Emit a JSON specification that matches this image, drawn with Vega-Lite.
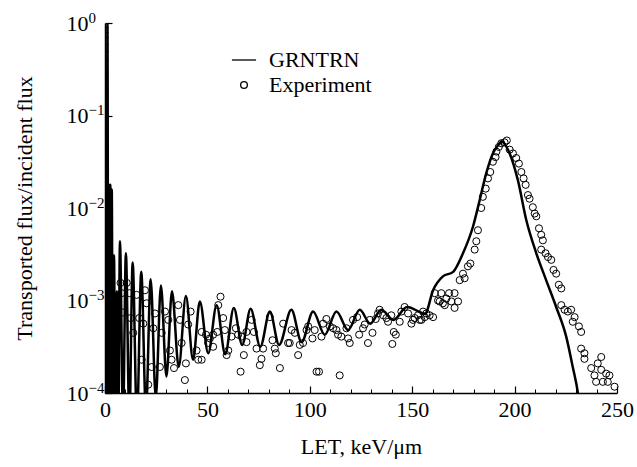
{
  "$schema": "https://vega.github.io/schema/vega-lite/v6.json",
  "width": 512,
  "height": 370,
  "autosize": "none",
  "padding": {"left": 105, "top": 23, "right": 20, "bottom": 74},
  "background": "white",
  "config": {
    "view": {"stroke": null},
    "font": "Liberation Serif",
    "axis": {"grid": false, "domainColor": "black", "tickColor": "black", "labelColor": "black", "titleColor": "black", "labelFont": "Liberation Serif", "titleFont": "Liberation Serif", "labelFontWeight": "normal", "titleFontWeight": "normal"}
  },
  "data": {"values": [
      {"s": "GRNTRN", "x": 0, "y": 0.00005}, {"s": "GRNTRN", "x": 0.8, "y": 0.00005}, {"s": "GRNTRN", "x": 1.2, "y": 1.0}, {"s": "GRNTRN", "x": 1.6, "y": 0.00005},
      {"s": "GRNTRN", "x": 1.9, "y": 0.0178}, {"s": "GRNTRN", "x": 2.25, "y": 0.00005}, {"s": "GRNTRN", "x": 2.6, "y": 0.0178}, {"s": "GRNTRN", "x": 2.95, "y": 0.00005},
      {"s": "GRNTRN", "x": 3.3, "y": 0.0158}, {"s": "GRNTRN", "x": 3.8, "y": 0.00005}, {"s": "GRNTRN", "x": 4.4, "y": 0.00309}, {"s": "GRNTRN", "x": 5.0, "y": 0.00005},
      {"s": "GRNTRN", "x": 5.8, "y": 0.00126}, {"s": "GRNTRN", "x": 6.5, "y": 0.00005}, {"s": "GRNTRN", "x": 7.3, "y": 0.00437}, {"s": "GRNTRN", "x": 8.8, "y": 0.00005},
      {"s": "GRNTRN", "x": 10.2, "y": 0.00324}, {"s": "GRNTRN", "x": 11.9, "y": 0.00005}, {"s": "GRNTRN", "x": 13.5, "y": 0.00257}, {"s": "GRNTRN", "x": 15.6, "y": 0.00005},
      {"s": "GRNTRN", "x": 17.7, "y": 0.00204}, {"s": "GRNTRN", "x": 20.0, "y": 0.000063}, {"s": "GRNTRN", "x": 22.3, "y": 0.0017}, {"s": "GRNTRN", "x": 24.8, "y": 0.000089},
      {"s": "GRNTRN", "x": 27.3, "y": 0.00145}, {"s": "GRNTRN", "x": 30.0, "y": 0.000151}, {"s": "GRNTRN", "x": 32.7, "y": 0.00126}, {"s": "GRNTRN", "x": 36.0, "y": 0.000191},
      {"s": "GRNTRN", "x": 39.5, "y": 0.00112}, {"s": "GRNTRN", "x": 43.0, "y": 0.000229}, {"s": "GRNTRN", "x": 46.3, "y": 0.000977}, {"s": "GRNTRN", "x": 50.4, "y": 0.000269},
      {"s": "GRNTRN", "x": 54.5, "y": 0.000891}, {"s": "GRNTRN", "x": 58.7, "y": 0.000263}, {"s": "GRNTRN", "x": 62.9, "y": 0.000832}, {"s": "GRNTRN", "x": 67.0, "y": 0.000331},
      {"s": "GRNTRN", "x": 71.1, "y": 0.000813}, {"s": "GRNTRN", "x": 75.8, "y": 0.000316}, {"s": "GRNTRN", "x": 80.5, "y": 0.000759}, {"s": "GRNTRN", "x": 85.0, "y": 0.000331},
      {"s": "GRNTRN", "x": 91.0, "y": 0.000794}, {"s": "GRNTRN", "x": 96.0, "y": 0.000355}, {"s": "GRNTRN", "x": 101.6, "y": 0.000759}, {"s": "GRNTRN", "x": 107.3, "y": 0.000427},
      {"s": "GRNTRN", "x": 113.0, "y": 0.000759}, {"s": "GRNTRN", "x": 118.7, "y": 0.000479}, {"s": "GRNTRN", "x": 124.4, "y": 0.000794}, {"s": "GRNTRN", "x": 129.5, "y": 0.000562},
      {"s": "GRNTRN", "x": 134.9, "y": 0.000794}, {"s": "GRNTRN", "x": 140.8, "y": 0.000617}, {"s": "GRNTRN", "x": 147.5, "y": 0.000851}, {"s": "GRNTRN", "x": 156.3, "y": 0.000724},
      {"s": "GRNTRN", "x": 160.2, "y": 0.00129}, {"s": "GRNTRN", "x": 165.0, "y": 0.00182}, {"s": "GRNTRN", "x": 170.0, "y": 0.00204}, {"s": "GRNTRN", "x": 174.8, "y": 0.00324},
      {"s": "GRNTRN", "x": 179.7, "y": 0.00631}, {"s": "GRNTRN", "x": 183.0, "y": 0.0123}, {"s": "GRNTRN", "x": 186.2, "y": 0.024}, {"s": "GRNTRN", "x": 189.4, "y": 0.0389},
      {"s": "GRNTRN", "x": 192.7, "y": 0.0501}, {"s": "GRNTRN", "x": 193.5, "y": 0.0525}, {"s": "GRNTRN", "x": 197.6, "y": 0.0389}, {"s": "GRNTRN", "x": 201.6, "y": 0.02},
      {"s": "GRNTRN", "x": 205.7, "y": 0.00741}, {"s": "GRNTRN", "x": 210.6, "y": 0.00324}, {"s": "GRNTRN", "x": 215.4, "y": 0.00166}, {"s": "GRNTRN", "x": 220.3, "y": 0.000851},
      {"s": "GRNTRN", "x": 225.2, "y": 0.000407}, {"s": "GRNTRN", "x": 228.4, "y": 0.000191}, {"s": "GRNTRN", "x": 230.9, "y": 0.0001}, {"s": "GRNTRN", "x": 232.0, "y": 0.000063},
      {"s": "Experiment", "x": 7.6, "y": 0.00155}, {"s": "Experiment", "x": 10.6, "y": 0.00155}, {"s": "Experiment", "x": 8.1, "y": 0.0012}, {"s": "Experiment", "x": 11.9, "y": 0.0012},
      {"s": "Experiment", "x": 15.4, "y": 0.00115}, {"s": "Experiment", "x": 19.5, "y": 0.00129}, {"s": "Experiment", "x": 8.6, "y": 0.000741}, {"s": "Experiment", "x": 12.5, "y": 0.000646},
      {"s": "Experiment", "x": 13.8, "y": 0.000447}, {"s": "Experiment", "x": 16.7, "y": 0.000646}, {"s": "Experiment", "x": 18.7, "y": 0.000562}, {"s": "Experiment", "x": 20.3, "y": 0.000933},
      {"s": "Experiment", "x": 23.6, "y": 0.000501}, {"s": "Experiment", "x": 24.4, "y": 0.000724}, {"s": "Experiment", "x": 27.7, "y": 0.000447}, {"s": "Experiment", "x": 29.3, "y": 0.000759},
      {"s": "Experiment", "x": 30.9, "y": 0.000617}, {"s": "Experiment", "x": 31.7, "y": 0.000288}, {"s": "Experiment", "x": 35.8, "y": 0.000891}, {"s": "Experiment", "x": 36.6, "y": 0.000617},
      {"s": "Experiment", "x": 37.4, "y": 0.000347}, {"s": "Experiment", "x": 32.5, "y": 0.000229}, {"s": "Experiment", "x": 33.7, "y": 0.000186}, {"s": "Experiment", "x": 22.8, "y": 0.000191},
      {"s": "Experiment", "x": 26.8, "y": 0.000191}, {"s": "Experiment", "x": 17.9, "y": 0.000229}, {"s": "Experiment", "x": 21.1, "y": 0.000123}, {"s": "Experiment", "x": 39.0, "y": 0.000138},
      {"s": "Experiment", "x": 39.5, "y": 0.000209}, {"s": "Experiment", "x": 40.6, "y": 0.00055}, {"s": "Experiment", "x": 41.8, "y": 0.000759}, {"s": "Experiment", "x": 44.7, "y": 0.000288},
      {"s": "Experiment", "x": 45.5, "y": 0.000229}, {"s": "Experiment", "x": 47.2, "y": 0.000229}, {"s": "Experiment", "x": 47.2, "y": 0.000457}, {"s": "Experiment", "x": 49.3, "y": 0.000427},
      {"s": "Experiment", "x": 51.2, "y": 0.000389}, {"s": "Experiment", "x": 50.4, "y": 0.000347}, {"s": "Experiment", "x": 52.8, "y": 0.000316}, {"s": "Experiment", "x": 52.8, "y": 0.000427},
      {"s": "Experiment", "x": 54.8, "y": 0.000457}, {"s": "Experiment", "x": 55.3, "y": 0.000891}, {"s": "Experiment", "x": 56.4, "y": 0.0011}, {"s": "Experiment", "x": 57.7, "y": 0.000646},
      {"s": "Experiment", "x": 58.5, "y": 0.000479}, {"s": "Experiment", "x": 60.2, "y": 0.000288}, {"s": "Experiment", "x": 59.4, "y": 0.000257}, {"s": "Experiment", "x": 61.8, "y": 0.000407},
      {"s": "Experiment", "x": 63.9, "y": 0.000501}, {"s": "Experiment", "x": 65.0, "y": 0.000427}, {"s": "Experiment", "x": 66.7, "y": 0.000407}, {"s": "Experiment", "x": 67.8, "y": 0.000257},
      {"s": "Experiment", "x": 66.2, "y": 0.00017}, {"s": "Experiment", "x": 69.1, "y": 0.000457}, {"s": "Experiment", "x": 71.6, "y": 0.000617}, {"s": "Experiment", "x": 72.7, "y": 0.000457},
      {"s": "Experiment", "x": 69.1, "y": 0.000355}, {"s": "Experiment", "x": 76.4, "y": 0.000234}, {"s": "Experiment", "x": 75.6, "y": 0.0002}, {"s": "Experiment", "x": 74.0, "y": 0.000302},
      {"s": "Experiment", "x": 77.2, "y": 0.000302}, {"s": "Experiment", "x": 80.5, "y": 0.000661}, {"s": "Experiment", "x": 81.8, "y": 0.000372}, {"s": "Experiment", "x": 82.9, "y": 0.000302},
      {"s": "Experiment", "x": 83.4, "y": 0.000269}, {"s": "Experiment", "x": 85.4, "y": 0.000186}, {"s": "Experiment", "x": 87.0, "y": 0.000562}, {"s": "Experiment", "x": 89.4, "y": 0.000347},
      {"s": "Experiment", "x": 90.2, "y": 0.000347}, {"s": "Experiment", "x": 91.1, "y": 0.000479}, {"s": "Experiment", "x": 92.7, "y": 0.000447}, {"s": "Experiment", "x": 94.3, "y": 0.000257},
      {"s": "Experiment", "x": 95.1, "y": 0.000331}, {"s": "Experiment", "x": 96.7, "y": 0.000347}, {"s": "Experiment", "x": 98.4, "y": 0.000479}, {"s": "Experiment", "x": 99.2, "y": 0.000525},
      {"s": "Experiment", "x": 101.3, "y": 0.000389}, {"s": "Experiment", "x": 102.4, "y": 0.000479}, {"s": "Experiment", "x": 103.3, "y": 0.00017}, {"s": "Experiment", "x": 104.5, "y": 0.00017},
      {"s": "Experiment", "x": 105.7, "y": 0.000407}, {"s": "Experiment", "x": 106.5, "y": 0.000562}, {"s": "Experiment", "x": 108.1, "y": 0.000631}, {"s": "Experiment", "x": 109.8, "y": 0.000525},
      {"s": "Experiment", "x": 111.4, "y": 0.000501}, {"s": "Experiment", "x": 113.0, "y": 0.000479}, {"s": "Experiment", "x": 113.8, "y": 0.000427}, {"s": "Experiment", "x": 115.4, "y": 0.000407},
      {"s": "Experiment", "x": 114.6, "y": 0.000155}, {"s": "Experiment", "x": 117.9, "y": 0.000501}, {"s": "Experiment", "x": 118.7, "y": 0.000389}, {"s": "Experiment", "x": 119.5, "y": 0.000347},
      {"s": "Experiment", "x": 121.1, "y": 0.000617}, {"s": "Experiment", "x": 123.1, "y": 0.000661}, {"s": "Experiment", "x": 124.1, "y": 0.000427}, {"s": "Experiment", "x": 126.0, "y": 0.000501},
      {"s": "Experiment", "x": 126.8, "y": 0.00055}, {"s": "Experiment", "x": 128.4, "y": 0.000347}, {"s": "Experiment", "x": 129.3, "y": 0.000617}, {"s": "Experiment", "x": 130.6, "y": 0.000447},
      {"s": "Experiment", "x": 132.2, "y": 0.000631}, {"s": "Experiment", "x": 133.3, "y": 0.000724}, {"s": "Experiment", "x": 134.1, "y": 0.000794}, {"s": "Experiment", "x": 135.8, "y": 0.000692},
      {"s": "Experiment", "x": 137.4, "y": 0.000646}, {"s": "Experiment", "x": 138.2, "y": 0.000589}, {"s": "Experiment", "x": 139.8, "y": 0.000692}, {"s": "Experiment", "x": 140.3, "y": 0.000339},
      {"s": "Experiment", "x": 141.0, "y": 0.000457}, {"s": "Experiment", "x": 142.0, "y": 0.000427}, {"s": "Experiment", "x": 143.9, "y": 0.000589}, {"s": "Experiment", "x": 144.7, "y": 0.000759},
      {"s": "Experiment", "x": 146.3, "y": 0.000851}, {"s": "Experiment", "x": 148.0, "y": 0.000724}, {"s": "Experiment", "x": 149.6, "y": 0.000562}, {"s": "Experiment", "x": 151.2, "y": 0.000646},
      {"s": "Experiment", "x": 152.8, "y": 0.000692}, {"s": "Experiment", "x": 154.5, "y": 0.000617}, {"s": "Experiment", "x": 155.3, "y": 0.000759}, {"s": "Experiment", "x": 156.9, "y": 0.000724},
      {"s": "Experiment", "x": 158.5, "y": 0.000692}, {"s": "Experiment", "x": 160.2, "y": 0.000661}, {"s": "Experiment", "x": 162.6, "y": 0.001}, {"s": "Experiment", "x": 164.2, "y": 0.0012},
      {"s": "Experiment", "x": 165.0, "y": 0.000933}, {"s": "Experiment", "x": 166.7, "y": 0.00105}, {"s": "Experiment", "x": 150.4, "y": 0.000617}, {"s": "Experiment", "x": 153.7, "y": 0.000617},
      {"s": "Experiment", "x": 156.1, "y": 0.000661}, {"s": "Experiment", "x": 161.0, "y": 0.0012}, {"s": "Experiment", "x": 163.4, "y": 0.000977}, {"s": "Experiment", "x": 165.9, "y": 0.000891},
      {"s": "Experiment", "x": 168.0, "y": 0.0012}, {"s": "Experiment", "x": 169.1, "y": 0.000977}, {"s": "Experiment", "x": 170.7, "y": 0.0012}, {"s": "Experiment", "x": 170.7, "y": 0.000832},
      {"s": "Experiment", "x": 172.4, "y": 0.000977}, {"s": "Experiment", "x": 173.2, "y": 0.00166}, {"s": "Experiment", "x": 174.8, "y": 0.00195}, {"s": "Experiment", "x": 175.6, "y": 0.00174},
      {"s": "Experiment", "x": 177.2, "y": 0.00234}, {"s": "Experiment", "x": 178.4, "y": 0.00251}, {"s": "Experiment", "x": 180.5, "y": 0.00355}, {"s": "Experiment", "x": 181.3, "y": 0.00437},
      {"s": "Experiment", "x": 182.1, "y": 0.00575}, {"s": "Experiment", "x": 183.7, "y": 0.01}, {"s": "Experiment", "x": 184.5, "y": 0.0132}, {"s": "Experiment", "x": 185.9, "y": 0.0162},
      {"s": "Experiment", "x": 187.0, "y": 0.0209}, {"s": "Experiment", "x": 188.1, "y": 0.0245}, {"s": "Experiment", "x": 189.4, "y": 0.0316}, {"s": "Experiment", "x": 190.7, "y": 0.0355},
      {"s": "Experiment", "x": 191.1, "y": 0.0407}, {"s": "Experiment", "x": 192.3, "y": 0.0457}, {"s": "Experiment", "x": 193.5, "y": 0.0501}, {"s": "Experiment", "x": 195.1, "y": 0.0513},
      {"s": "Experiment", "x": 196.2, "y": 0.0537}, {"s": "Experiment", "x": 197.6, "y": 0.0427}, {"s": "Experiment", "x": 199.2, "y": 0.0389}, {"s": "Experiment", "x": 200.8, "y": 0.0347},
      {"s": "Experiment", "x": 202.1, "y": 0.0302}, {"s": "Experiment", "x": 203.3, "y": 0.0245}, {"s": "Experiment", "x": 204.4, "y": 0.0209}, {"s": "Experiment", "x": 205.4, "y": 0.0178},
      {"s": "Experiment", "x": 206.5, "y": 0.0138}, {"s": "Experiment", "x": 207.3, "y": 0.0126}, {"s": "Experiment", "x": 208.9, "y": 0.0102}, {"s": "Experiment", "x": 209.8, "y": 0.00871},
      {"s": "Experiment", "x": 210.6, "y": 0.00813}, {"s": "Experiment", "x": 211.9, "y": 0.00603}, {"s": "Experiment", "x": 213.0, "y": 0.00513}, {"s": "Experiment", "x": 213.8, "y": 0.00447},
      {"s": "Experiment", "x": 213.0, "y": 0.00355}, {"s": "Experiment", "x": 215.1, "y": 0.00324}, {"s": "Experiment", "x": 216.3, "y": 0.00295}, {"s": "Experiment", "x": 217.9, "y": 0.00275},
      {"s": "Experiment", "x": 219.0, "y": 0.00214}, {"s": "Experiment", "x": 220.3, "y": 0.00195}, {"s": "Experiment", "x": 221.6, "y": 0.00148}, {"s": "Experiment", "x": 222.8, "y": 0.00135},
      {"s": "Experiment", "x": 222.8, "y": 0.000891}, {"s": "Experiment", "x": 224.4, "y": 0.000794}, {"s": "Experiment", "x": 226.0, "y": 0.000759}, {"s": "Experiment", "x": 227.6, "y": 0.000794},
      {"s": "Experiment", "x": 228.4, "y": 0.000589}, {"s": "Experiment", "x": 229.3, "y": 0.000661}, {"s": "Experiment", "x": 231.4, "y": 0.000525}, {"s": "Experiment", "x": 232.5, "y": 0.000457},
      {"s": "Experiment", "x": 232.5, "y": 0.000302}, {"s": "Experiment", "x": 234.1, "y": 0.000269}, {"s": "Experiment", "x": 234.1, "y": 0.000234}, {"s": "Experiment", "x": 237.4, "y": 0.000186},
      {"s": "Experiment", "x": 239.0, "y": 0.000155}, {"s": "Experiment", "x": 239.8, "y": 0.000132}, {"s": "Experiment", "x": 240.6, "y": 0.000209}, {"s": "Experiment", "x": 242.3, "y": 0.000245},
      {"s": "Experiment", "x": 242.3, "y": 0.000178}, {"s": "Experiment", "x": 243.1, "y": 0.000132}, {"s": "Experiment", "x": 244.7, "y": 0.000162}, {"s": "Experiment", "x": 246.3, "y": 0.000155},
      {"s": "Experiment", "x": 245.5, "y": 0.000132}, {"s": "Experiment", "x": 248.8, "y": 0.000117}
  ]},
  "resolve": {"axis": {"x": "independent", "y": "independent"}},
  "layer": [
    {
      "transform": [{"filter": "datum.s == 'GRNTRN'"}],
      "mark": {"type": "line", "color": "black", "strokeWidth": 2.5, "interpolate": "monotone", "clip": true},
      "encoding": {
        "x": {"field": "x", "type": "quantitative",
              "scale": {"domain": [0, 250], "nice": false, "zero": false},
              "axis": {"orient": "bottom", "values": [0, 50, 100, 150, 200, 250], "tickSize": -7, "tickWidth": 1.2, "domainWidth": 1.5,
                       "labelFontSize": 22, "labelPadding": 13, "labelFlush": false, "labelOverlap": false,
                       "title": "LET, keV/μm", "titleFontSize": 22, "titlePadding": 16}},
        "y": {"field": "y", "type": "quantitative",
              "scale": {"type": "log", "domain": [0.0001, 1], "nice": false},
              "axis": {"orient": "left", "values": [0.0001, 0.001, 0.01, 0.1, 1], "tickSize": -7, "tickWidth": 1.2, "domainWidth": 1.5,
                       "labelFontSize": 22, "labelPadding": 24, "labelFlush": false, "labelOverlap": false,
                       "labelExpr": "'10'",
                       "title": "Transported flux/incident flux", "titleFontSize": 22, "titlePadding": 30}}
      }
    },
    {
      "transform": [{"filter": "datum.s == 'Experiment'"}],
      "mark": {"type": "point", "filled": false, "color": "black", "strokeWidth": 1, "size": 50, "opacity": 1},
      "encoding": {
        "x": {"field": "x", "type": "quantitative",
              "axis": {"orient": "bottom", "values": [10, 20, 30, 40, 60, 70, 80, 90, 110, 120, 130, 140, 160, 170, 180, 190, 210, 220, 230, 240],
                       "tickSize": -4, "tickWidth": 1, "labels": false, "domain": false, "title": null}},
        "y": {"field": "y", "type": "quantitative",
              "axis": {"orient": "left", "values": [0.0002, 0.0003, 0.0004, 0.0005, 0.0006, 0.0007, 0.0008, 0.0009, 0.002, 0.003, 0.004, 0.005, 0.006, 0.007, 0.008, 0.009, 0.02, 0.03, 0.04, 0.05, 0.06, 0.07, 0.08, 0.09, 0.2, 0.3, 0.4, 0.5, 0.6, 0.7, 0.8, 0.9],
                       "tickSize": -3, "tickWidth": 1, "labels": false, "domain": false, "title": null}},
        "shape": {"field": "s", "type": "nominal",
                  "scale": {"domain": ["GRNTRN", "Experiment"], "range": ["M-3.6,0H3.6", "circle"]},
                  "legend": {"title": null, "orient": "none", "legendX": 128, "legendY": 26, "padding": 0,
                             "labelFont": "Liberation Serif", "labelFontSize": 22, "labelColor": "black", "labelOffset": 14,
                             "rowPadding": 3, "symbolSize": 45, "symbolStrokeWidth": 1.3, "symbolStrokeColor": "black"}}
      }
    },
    {
      "transform": [{"filter": "datum.s == 'GRNTRN'"}],
      "mark": {"type": "point", "opacity": 0},
      "encoding": {
        "x": {"field": "x", "type": "quantitative", "axis": null},
        "y": {"field": "y", "type": "quantitative",
              "axis": {"orient": "left", "values": [0.0001, 0.001, 0.01, 0.1, 1], "ticks": true, "tickSize": 0, "domain": false,
                       "labelFontSize": 15, "labelPadding": 17, "labelAlign": "left", "labelOffset": -6, "labelFlush": false, "labelOverlap": false,
                       "labelExpr": "datum.value > 0.5 ? '0' : datum.value > 0.05 ? '−1' : datum.value > 0.005 ? '−2' : datum.value > 0.0005 ? '−3' : '−4'",
                       "title": null}}
      }
    }
  ]
}
